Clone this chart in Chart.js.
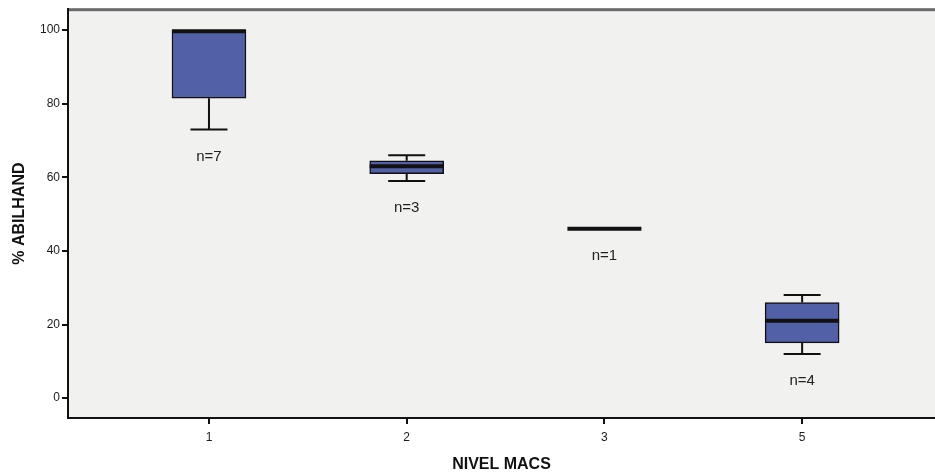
<!DOCTYPE html>
<html>
<head>
<meta charset="utf-8">
<script src="https://cdn.jsdelivr.net/npm/chart.js@4/dist/chart.umd.min.js"></script>
<style>
  html, body { margin: 0; padding: 0; background: #fff; }
  #wrap { width: 935px; height: 474px; }
</style>
</head>
<body>
<div id="wrap"><canvas id="boxChart" width="935" height="474"></canvas></div>
<script>
const CATEGORIES = ['1', '2', '3', '5'];
const MINS = [73, 59, 46, 12];
const Q1S = [81.5, 61, 46, 15];
const MEDIANS = [100, 63, 46, 21];
const Q3S = [100, 64.5, 46, 26];
const MAXS = [100, 66, 46, 28];
const COUNTS = [7, 3, 1, 4];
const Y_TICKS = [0, 20, 40, 60, 80, 100];

const BOX_COLOR = '#5260a8';
const PLOT_BG = '#f1f1f0';
const FONT = 'Arial, "Liberation Sans", sans-serif';

// boxes with a real spread become floating bars; single values only get a median line
const boxData = CATEGORIES.map((c, i) => ({
  x: i,
  y: Q3S[i] > Q1S[i] ? [Q1S[i], Q3S[i]] : null,
}));

const boxPlotPlugin = {
  id: 'boxPlot',
  beforeDraw(chart) {
    const { ctx, chartArea: a } = chart;
    ctx.save();
    ctx.fillStyle = PLOT_BG;
    ctx.fillRect(a.left, a.top, a.right - a.left, a.bottom - a.top);
    ctx.fillStyle = '#6a6a6a';
    ctx.fillRect(a.left, a.top - 1, a.right - a.left, 3);
    ctx.restore();
  },
  afterDatasetsDraw(chart) {
    const { ctx, scales } = chart;
    const xs = scales.x;
    const ys = scales.y;
    const half = 37;
    const cap = 18.5;
    ctx.save();
    ctx.strokeStyle = '#111';
    CATEGORIES.forEach((c, i) => {
      const cx = xs.getPixelForValue(i);
      const yMin = ys.getPixelForValue(MINS[i]);
      const yMax = ys.getPixelForValue(MAXS[i]);
      const yQ1 = ys.getPixelForValue(Q1S[i]);
      const yQ3 = ys.getPixelForValue(Q3S[i]);
      const yMed = ys.getPixelForValue(MEDIANS[i]);

      ctx.lineWidth = 2;
      if (MINS[i] < Q1S[i]) {
        ctx.beginPath();
        ctx.moveTo(cx, yQ1);
        ctx.lineTo(cx, yMin);
        ctx.moveTo(cx - cap, yMin);
        ctx.lineTo(cx + cap, yMin);
        ctx.stroke();
      }
      if (MAXS[i] > Q3S[i]) {
        ctx.beginPath();
        ctx.moveTo(cx, yQ3);
        ctx.lineTo(cx, yMax);
        ctx.moveTo(cx - cap, yMax);
        ctx.lineTo(cx + cap, yMax);
        ctx.stroke();
      }

      ctx.lineWidth = 4;
      ctx.beginPath();
      const medY = MEDIANS[i] === Q3S[i] && Q3S[i] > Q1S[i] ? yMed + 1 : yMed;
      ctx.moveTo(cx - half, medY);
      ctx.lineTo(cx + half, medY);
      ctx.stroke();

      ctx.fillStyle = '#222';
      ctx.font = '15px ' + FONT;
      ctx.textAlign = 'center';
      ctx.textBaseline = 'middle';
      ctx.fillText('n=' + COUNTS[i], cx, yMin + 27);
    });
    ctx.restore();
  },
};

new Chart(document.getElementById('boxChart').getContext('2d'), {
  type: 'bar',
  data: {
    datasets: [
      {
        data: boxData,
        backgroundColor: BOX_COLOR,
        borderColor: '#111',
        borderWidth: 1.5,
        borderSkipped: false,
        barThickness: 74,
      },
    ],
  },
  options: {
    responsive: false,
    animation: false,
    layout: { padding: { top: 9, right: 0, left: 0, bottom: 0 } },
    plugins: {
      legend: { display: false },
      tooltip: { enabled: false },
    },
    scales: {
      x: {
        type: 'linear',
        offset: false,
        min: -0.713,
        max: 3.672,
        afterBuildTicks: scale => {
          scale.ticks = CATEGORIES.map((c, i) => ({ value: i }));
        },
        afterFit: scale => {
          scale.height = 56;
        },
        ticks: {
          callback: value => CATEGORIES[value],
          color: '#1a1a1a',
          font: { family: FONT, size: 12 },
          padding: 6,
          maxRotation: 0,
        },
        grid: { offset: false, drawOnChartArea: false, drawTicks: true, tickLength: 6, color: '#111', lineWidth: 2 },
        border: { display: true, color: '#111', width: 2 },
        title: {
          display: true,
          text: 'NIVEL MACS',
          color: '#111',
          font: { family: FONT, size: 16, weight: 'bold' },
          padding: { top: 15, bottom: 0 },
        },
      },
      y: {
        min: -5.4,
        max: 105.7,
        afterBuildTicks: scale => {
          scale.ticks = Y_TICKS.map(v => ({ value: v }));
        },
        afterFit: scale => {
          scale.width = 68;
        },
        ticks: {
          color: '#1a1a1a',
          font: { family: FONT, size: 12 },
          padding: 2,
        },
        grid: { drawOnChartArea: false, drawTicks: true, tickLength: 6, color: '#111', lineWidth: 2 },
        border: { display: true, color: '#111', width: 2 },
        title: {
          display: true,
          text: '% ABILHAND',
          color: '#111',
          font: { family: FONT, size: 16, weight: 'bold' },
          padding: { top: 10, bottom: 0 },
        },
      },
    },
  },
  plugins: [boxPlotPlugin],
});
</script>
</body>
</html>
